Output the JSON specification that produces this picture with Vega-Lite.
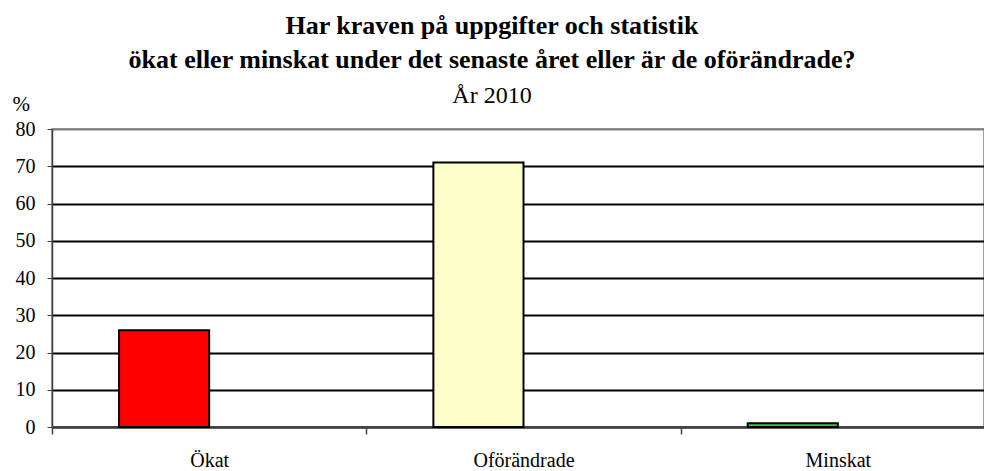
{
  "$schema": "https://vega.github.io/schema/vega-lite/v6.json",
  "autosize": "none",
  "width": 932,
  "height": 298,
  "padding": {"left": 52, "top": 129, "right": 0, "bottom": 44},
  "background": "white",
  "title": {
    "text": ["Har kraven på uppgifter och statistik", "ökat eller minskat under det senaste året eller är de oförändrade?"],
    "subtitle": "År 2010",
    "font": "Liberation Serif",
    "fontSize": 26,
    "fontWeight": "bold",
    "lineHeight": 34,
    "subtitleFont": "Liberation Serif",
    "subtitleFontSize": 24,
    "subtitleColor": "black",
    "subtitlePadding": 11,
    "color": "black",
    "anchor": "middle",
    "frame": "group",
    "dx": -26,
    "offset": -15
  },
  "data": {
    "values": [
      {"svar": "Ökat", "serie": "a", "procent": 26},
      {"svar": "Oförändrade", "serie": "a", "procent": 71},
      {"svar": "Minskat", "serie": "a", "procent": 1}
    ]
  },
  "config": {
    "view": {"stroke": "#808080", "strokeWidth": 1.5},
    "axis": {"labelFont": "Liberation Serif", "titleFont": "Liberation Serif", "labelColor": "black", "titleColor": "black"}
  },
  "mark": {"type": "bar", "stroke": "black", "strokeWidth": 2},
  "encoding": {
    "x": {
      "field": "svar",
      "type": "nominal",
      "sort": ["Ökat", "Oförändrade", "Minskat"],
      "scale": {"range": [0, 943], "paddingInner": 0, "paddingOuter": 0},
      "axis": {
        "title": null,
        "labelAngle": 0,
        "labelFontSize": 20,
        "labelPadding": 16,
        "tickBand": "extent",
        "tickSize": 7,
        "tickColor": "#404040",
        "tickWidth": 1.5,
        "domainColor": "#404040",
        "domainWidth": 2,
        "grid": false
      }
    },
    "xOffset": {
      "field": "serie",
      "type": "nominal",
      "scale": {"domain": ["a", "b"], "paddingInner": 0, "paddingOuter": 0.744}
    },
    "y": {
      "field": "procent",
      "type": "quantitative",
      "scale": {"domain": [0, 80], "nice": false},
      "axis": {
        "values": [0, 10, 20, 30, 40, 50, 60, 70, 80],
        "title": "%",
        "titleAngle": 0,
        "titleAlign": "left",
        "titleBaseline": "alphabetic",
        "titleX": -40,
        "titleY": -19,
        "titleFontSize": 21,
        "titleFontWeight": "normal",
        "labelFontSize": 20,
        "labelPadding": 12,
        "tickSize": 5,
        "tickColor": "#404040",
        "domainColor": "#404040",
        "domainWidth": 1.5,
        "gridColor": {"condition": {"test": "datum.value == 80", "value": "#808080"}, "value": "black"},
        "gridWidth": 2
      }
    },
    "color": {
      "field": "svar",
      "type": "nominal",
      "scale": {"domain": ["Ökat", "Oförändrade", "Minskat"], "range": ["#FF0000", "#FFFFCC", "#33CC33"]},
      "legend": null
    }
  }
}
